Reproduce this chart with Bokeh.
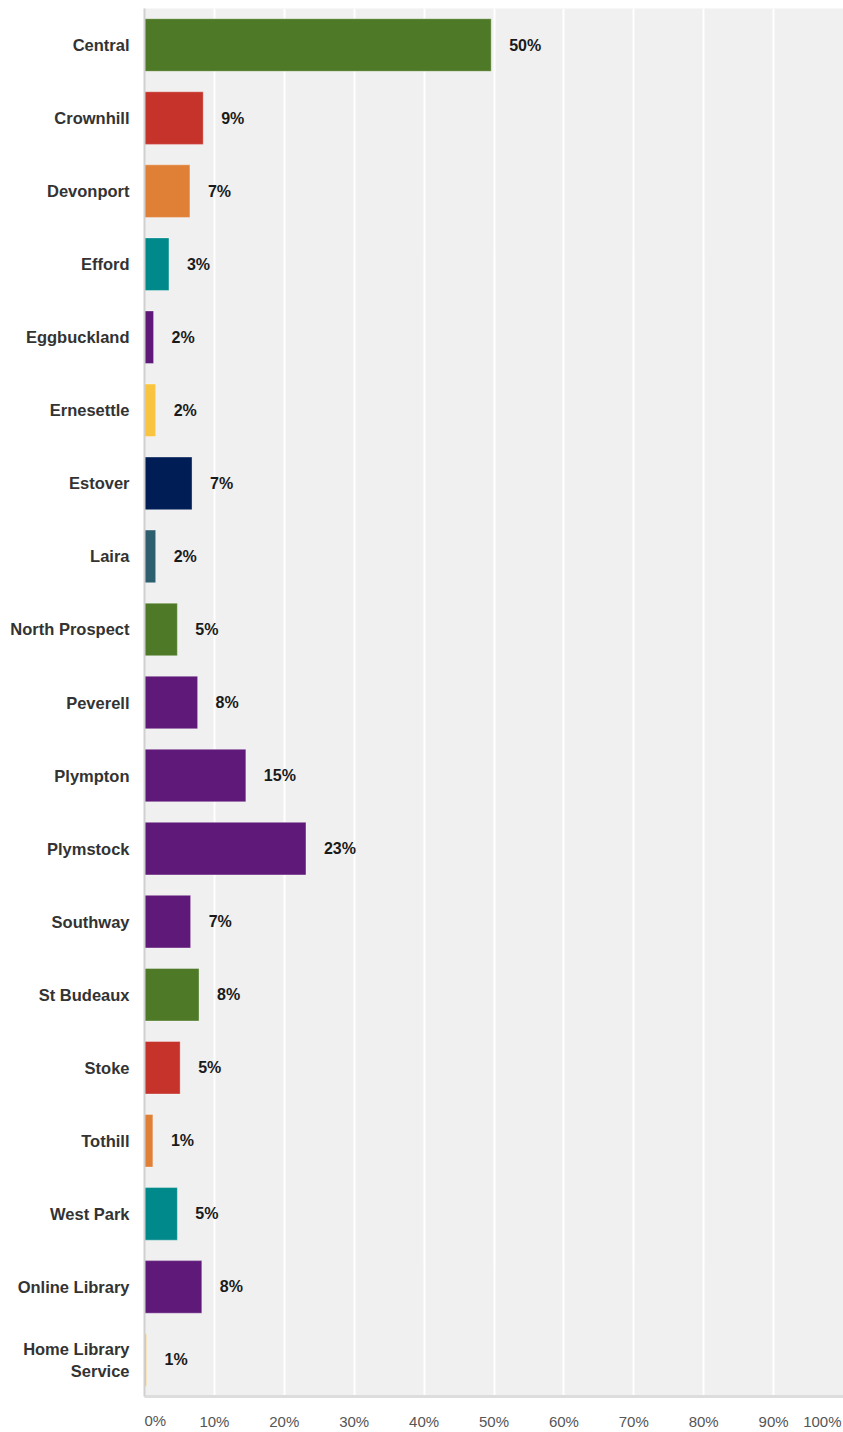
from bokeh.plotting import figure
from bokeh.models import ColumnDataSource, FactorRange, Range1d, FixedTicker, Label, LinearAxis
from bokeh.core.properties import value
from bokeh.embed import file_html
from bokeh.resources import INLINE

# ---- data ----
categories = ["Central", "Crownhill", "Devonport", "Efford", "Eggbuckland",
              "Ernesettle", "Estover", "Laira", "North Prospect", "Peverell",
              "Plympton", "Plymstock", "Southway", "St Budeaux", "Stoke",
              "Tothill", "West Park", "Online Library", "Home Library\nService"]
values = [49.6, 8.4, 6.5, 3.5, 1.3, 1.6, 6.8, 1.6, 4.7, 7.6,
          14.5, 23.1, 6.6, 7.8, 5.1, 1.2, 4.7, 8.2, 0.3]
value_labels = ["50%", "9%", "7%", "3%", "2%", "2%", "7%", "2%", "5%", "8%",
                "15%", "23%", "7%", "8%", "5%", "1%", "5%", "8%", "1%"]
bar_colors = ["#4e7a27", "#c5332b", "#e07f36", "#00898a", "#5f1a79",
              "#f9c43f", "#001e55", "#2d5f6e", "#4e7a27", "#5f1a79",
              "#5f1a79", "#5f1a79", "#5f1a79", "#4e7a27", "#c5332b",
              "#e07f36", "#00898a", "#5f1a79", "#f5c767"]
tick_values = [0, 10, 20, 30, 40, 50, 60, 70, 80, 90, 100]
tick_labels = ["0%", "10%", "20%", "30%", "40%", "50%", "60%", "70%", "80%", "90%", "100%"]

FONT = "Liberation Sans"

source = ColumnDataSource(dict(cat=categories, val=values, lab=value_labels, col=bar_colors))

p = figure(width=843, height=1432, y_range=FactorRange(*reversed(categories)),
           x_range=Range1d(0, 100), output_backend="svg", toolbar_location=None,
           min_border_left=144, min_border_right=0, min_border_top=8, min_border_bottom=36)

p.background_fill_color = "#f0f0f0"
p.border_fill_color = "white"
p.outline_line_color = None

p.hbar(y="cat", right="val", left=0, height=0.72, source=source,
       fill_color="col", line_color="white", line_alpha=0.35, line_width=1)

p.text(x="val", y="cat", text="lab", source=source, x_offset=18,
       text_align="left", text_baseline="middle",
       text_font=value(FONT), text_font_style="bold", text_font_size="16px",
       text_color="#1a1a1a")

# grid
p.ygrid.grid_line_color = None
p.xgrid.ticker = FixedTicker(ticks=tick_values[1:])
p.xgrid.grid_line_color = "white"
p.xgrid.grid_line_width = 2

# bottom rule (axis line only) on the frame edge
rule = LinearAxis(ticker=FixedTicker(ticks=[]), major_label_standoff=0,
                  major_tick_line_color=None, minor_tick_line_color=None,
                  axis_line_color="#dddddd", axis_line_width=3)

# end tick labels, aligned inward
lab0 = Label(x=tick_values[0], y=-6.5, y_units="screen", text=tick_labels[0],
             text_align="left", text_baseline="middle", text_font=FONT,
             text_font_size="15px", text_color="#555555")
lab1 = Label(x=tick_values[-1], y=9, y_units="screen", text=tick_labels[-1], x_offset=-2,
             text_align="right", text_baseline="middle", text_font=FONT,
             text_font_size="15px", text_color="#555555")

# inner tick labels, centred
xa = p.xaxis[0]
xa.ticker = FixedTicker(ticks=tick_values[1:-1])
xa.major_label_overrides = {v: t for v, t in zip(tick_values, tick_labels)}
xa.major_tick_line_color = None
xa.minor_tick_line_color = None
xa.major_label_standoff = -24
xa.major_label_text_font = FONT
xa.major_label_text_font_size = "15px"
xa.major_label_text_color = "#555555"
xa.axis_line_color = None

p.below = [rule, lab0, lab1, xa]

ya = p.yaxis[0]
ya.major_tick_line_color = None
ya.minor_tick_line_color = None
ya.axis_line_color = "#d0d0d0"
ya.axis_line_width = 2
ya.major_label_standoff = 9
ya.major_label_text_font = FONT
ya.major_label_text_font_style = "bold"
ya.major_label_text_font_size = "16.5px"
ya.major_label_text_color = "#333333"
ya.major_label_text_align = "right"

open("out.html", "w").write(file_html(p, INLINE))
